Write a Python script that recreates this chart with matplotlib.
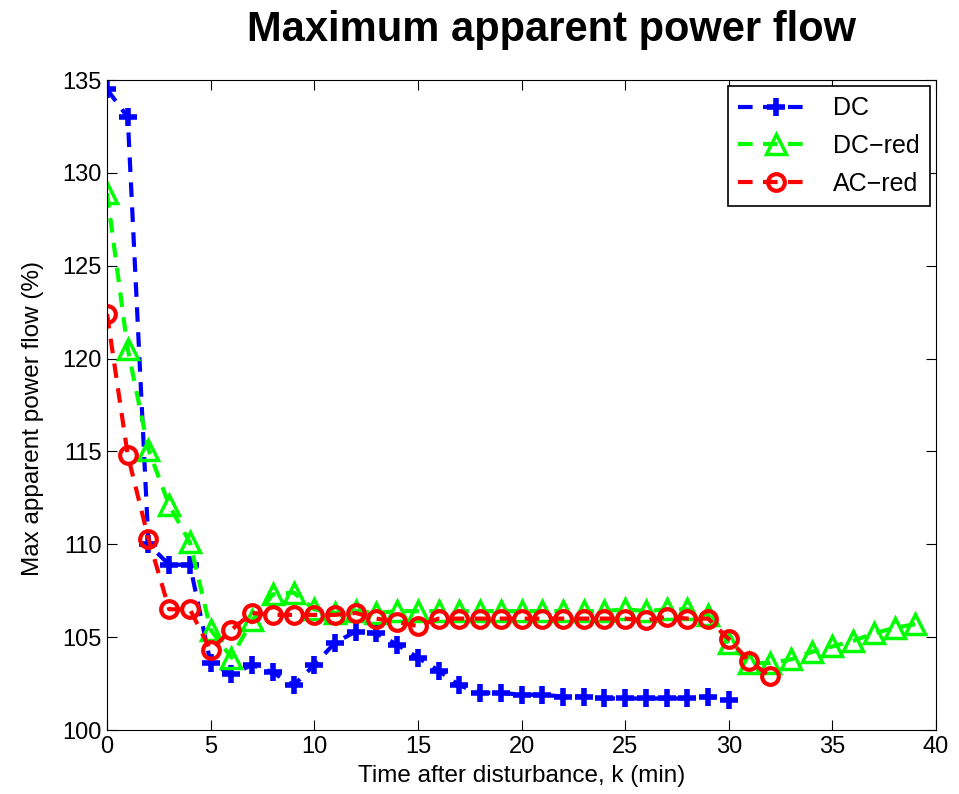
import numpy as np
from matplotlib import pyplot as plt

plt.rcParams['font.family'] = ['Liberation Sans', 'DejaVu Sans']

# Values
k_dc = np.arange(0, 31)
dc = [134.5, 133.0, 110.0, 108.9, 108.9, 103.6, 103.0, 103.5, 103.1, 102.4,
      103.5, 104.7, 105.3, 105.2, 104.6, 103.9, 103.2, 102.4, 102.0, 102.0,
      101.9, 101.9, 101.8, 101.8, 101.7, 101.7, 101.7, 101.7, 101.7, 101.8,
      101.6]

k_dcred = np.arange(0, 40)
dc_red = [128.9, 120.5, 115.1, 112.1, 110.1, 105.4, 103.9, 105.9, 107.3, 107.4,
          106.5, 106.3, 106.4, 106.3, 106.4, 106.4, 106.4, 106.4, 106.4, 106.4,
          106.4, 106.4, 106.4, 106.4, 106.4, 106.5, 106.4, 106.5, 106.5, 106.2,
          104.7, 103.6, 103.6, 103.8, 104.2, 104.5, 104.8, 105.2, 105.5, 105.7]

k_acred = np.arange(0, 33)
ac_red = [122.4, 114.8, 110.3, 106.5, 106.5, 104.3, 105.4, 106.3, 106.2, 106.2,
          106.2, 106.2, 106.3, 106.0, 105.8, 105.6, 106.0, 106.0, 106.0, 106.0,
          106.0, 106.0, 106.0, 106.0, 106.0, 106.0, 105.9, 106.1, 106.0, 106.0,
          104.9, 103.7, 102.9]

fig = plt.figure(figsize=(9.59, 7.94), dpi=100)
ax = fig.add_axes([0.1116, 0.0806, 0.8644, 0.8186])

ax.plot(k_dc, dc, '--', color='#0000ff', lw=3, dashes=(3.5, 2.5),
        marker='+', ms=13, mew=4, label='DC')
ax.plot(k_dcred, dc_red, '--', color='#00ff00', lw=3, dashes=(3.5, 2.5),
        marker='^', ms=14, mew=2.5, mfc='none', label='DC\u2212red')
ax.plot(k_acred, ac_red, '--', color='#ff0000', lw=3, dashes=(3.5, 2.5),
        marker='o', ms=12, mew=3, mfc='none', label='AC\u2212red')

ax.set_xlim(0, 40)
ax.set_ylim(100, 135)
ax.set_xticks(np.arange(0, 41, 5))
ax.set_yticks(np.arange(100, 136, 5))
ax.tick_params(direction='in', top=True, right=True, labelsize=17,
               length=7, pad=4)
ax.set_xlabel('Time after disturbance, k (min)', fontsize=17.5, labelpad=5)
ax.set_ylabel('Max apparent power flow (%)', fontsize=17.5)
ax.yaxis.set_label_coords(-0.076, 0.48)
fig.suptitle('Maximum apparent power flow', x=0.575, y=0.987,
             fontsize=30, fontweight='bold')

leg = ax.legend(loc='upper right', fontsize=18, handlelength=3,
                fancybox=False, edgecolor='black', framealpha=1,
                borderaxespad=0.25, labelspacing=0.55, borderpad=0.4)
leg.get_frame().set_linewidth(1.2)

plt.savefig('out.png', dpi=100)
